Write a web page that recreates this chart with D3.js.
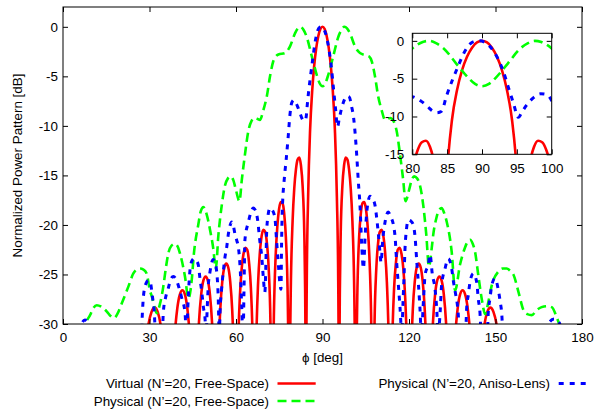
<!DOCTYPE html>
<html><head><meta charset="utf-8">
<script src="https://cdn.jsdelivr.net/npm/d3@7"></script>
<style>
body{margin:0;background:#fff}
svg{display:block}
text{font-family:"Liberation Sans",Arial,Helvetica,sans-serif;fill:#000}
</style>
</head><body>
<svg id="chart" width="597" height="414"></svg>
<script>
// ---------- data ----------
const xTicks = [0, 30, 60, 90, 120, 150, 180];
const yTicks = [0, -5, -10, -15, -20, -25, -30];
const insetXTicks = [80, 85, 90, 95, 100];
const insetYTicks = [0, -5, -10, -15];
const seriesNames = ["Virtual (N\u2019=20, Free-Space)", "Physical (N\u2019=20, Free-Space)", "Physical (N\u2019=20, Aniso-Lens)"];
const xLabel = "\u03D5 [deg]";
const yLabel = "Normalized Power Pattern [dB]";

// Virtual (N'=20, Free-Space)  [phi (deg), dB]
const virtualFS = [
[25.84,-45],[28.36,-33.0],[29.54,-30.2],[30.68,-28.8],[31.79,-28.35],[32.86,-28.8],[33.90,-30.2],[34.92,-33.0],[36.87,-45],
[37.82,-36.8],[38.74,-31.2],[39.65,-28.4],[40.54,-27.0],[41.41,-26.6],[42.27,-27.0],[43.11,-28.4],[43.95,-31.2],[44.77,-36.8],[45.57,-45],
[46.37,-35.4],[47.16,-29.8],[47.93,-27.0],[48.70,-25.6],[49.46,-25.2],[50.21,-25.6],[50.95,-27.0],[51.68,-29.8],[52.41,-35.4],[53.13,-45],
[53.84,-34.1],[54.55,-28.5],[55.25,-25.7],[55.94,-24.3],[56.63,-23.9],[57.32,-24.3],[57.99,-25.7],[58.67,-28.5],[59.34,-34.1],[60.00,-45],
[60.66,-33.1],[61.31,-27.4],[61.97,-24.4],[62.61,-22.9],[63.26,-22.3],[63.90,-22.5],[64.53,-23.8],[65.17,-26.4],[65.80,-31.9],[66.42,-45],
[67.05,-31.6],[67.67,-25.8],[68.29,-22.75],[68.90,-21.1],[69.51,-20.5],[70.12,-20.7],[70.73,-21.85],[71.34,-24.4],[71.94,-29.8],[72.54,-45],
[72.84,-35.1],[73.14,-29.1],[73.74,-23.2],[74.34,-20.15],[74.93,-18.4],[75.52,-17.7],[76.11,-17.8],[76.70,-18.8],[77.29,-21.2],[77.88,-26.4],[78.17,-32.1],[78.46,-45],
[78.76,-31.7],[79.05,-25.6],[79.63,-19.6],[80.21,-16.3],[80.79,-14.4],[81.37,-13.4],[81.95,-13.2],[82.53,-14.0],[83.11,-16.1],[83.69,-20.9],[83.97,-26.4],[84.12,-32.2],[84.26,-45],
[84.40,-31.8],[84.55,-25.6],[85.02,-17.1],[85.70,-10.4],[86.42,-6.5],[87.13,-3.9],[87.85,-2.1],[88.57,-0.9],[89.28,-0.2],[90.00,0],
[90.72,-0.2],[91.43,-0.9],[92.15,-2.1],[92.87,-3.9],[93.58,-6.5],[94.30,-10.4],[94.98,-17.1],[95.45,-25.6],[95.60,-31.8],[95.74,-45],
[95.88,-32.2],[96.03,-26.4],[96.31,-20.9],[96.89,-16.1],[97.47,-14.0],[98.05,-13.2],[98.63,-13.4],[99.21,-14.4],[99.79,-16.3],[100.37,-19.6],[100.95,-25.6],[101.24,-31.7],[101.54,-45],
[101.83,-32.1],[102.12,-26.4],[102.71,-21.2],[103.30,-18.8],[103.89,-17.8],[104.48,-17.7],[105.07,-18.4],[105.66,-20.15],[106.26,-23.2],[106.86,-29.1],[107.16,-35.1],[107.46,-45],
[108.06,-29.8],[108.66,-24.4],[109.27,-21.85],[109.88,-20.7],[110.49,-20.5],[111.10,-21.1],[111.71,-22.75],[112.33,-25.8],[112.95,-31.6],[113.58,-45],
[114.20,-31.9],[114.83,-26.4],[115.47,-23.8],[116.10,-22.5],[116.74,-22.3],[117.39,-22.9],[118.03,-24.4],[118.69,-27.4],[119.34,-33.1],[120.00,-45],
[120.66,-34.1],[121.33,-28.5],[122.01,-25.7],[122.68,-24.3],[123.37,-23.9],[124.06,-24.3],[124.75,-25.7],[125.45,-28.5],[126.16,-34.1],[126.87,-45],
[127.59,-35.4],[128.32,-29.8],[129.05,-27.0],[129.79,-25.6],[130.54,-25.2],[131.30,-25.6],[132.07,-27.0],[132.84,-29.8],[133.63,-35.4],[134.43,-45],
[135.23,-36.8],[136.05,-31.2],[136.89,-28.4],[137.73,-27.0],[138.59,-26.6],[139.46,-27.0],[140.35,-28.4],[141.26,-31.2],[142.18,-36.8],[143.13,-45],
[145.08,-33.0],[146.10,-30.2],[147.14,-28.8],[148.21,-28.35],[149.32,-28.8],[150.46,-30.2],[151.64,-33.0],[154.16,-45]
];

// Physical (N'=20, Free-Space)
const physicalFS = [
[7.5,-31],[8.0,-30.0],[9.4,-29.1],[10.5,-28.4],[11.7,-28.1],[13.5,-28.3],[15.2,-28.75],[16.5,-29.2],[17.7,-29.4],[19.0,-28.9],[20.4,-27.9],
[22.7,-26.2],[24.4,-24.9],[25.5,-24.5],[26.7,-24.4],[27.9,-24.5],[29.0,-24.9],[30.2,-26.7],[30.8,-27.2],[31.7,-28.3],[32.5,-28.9],[33.6,-28.0],
[34.8,-26.2],[35.6,-24.5],[36.5,-22.9],[37.6,-22.1],[38.8,-21.9],[39.8,-22.2],[40.6,-22.9],[42.3,-25.2],[43.5,-27.4],[44.6,-25.7],[45.4,-22.9],
[46.9,-20.0],[47.8,-18.6],[48.7,-18.2],[49.8,-18.9],[51.0,-20.5],[52.1,-22.35],[53.0,-24.4],[53.9,-21.0],[55.0,-18.15],[56.2,-16.0],[57.2,-15.3],
[58.2,-15.1],[59.1,-15.5],[60.0,-16.5],[61.2,-17.6],[62.0,-15.5],[63.1,-12.9],[64.3,-10.5],[65.4,-9.5],[66.5,-9.2],[67.5,-9.3],[68.3,-9.4],
[69.5,-8.4],[70.7,-7.0],[71.8,-5.0],[72.9,-3.5],[73.8,-3.0],[74.7,-2.8],[77.0,-2.65],[78.7,-2.0],[80.5,-0.64],[81.5,-0.15],[82.4,0.0],
[83.4,-0.3],[84.5,-1.0],[86.3,-3.0],[88.0,-4.85],[89.0,-5.7],[90.0,-6.0],[91.0,-5.7],[92.0,-4.85],[93.7,-3.0],[95.5,-1.0],[96.6,-0.3],
[97.6,0.0],[98.5,-0.15],[99.5,-0.64],[101.3,-2.0],[103.0,-2.65],[105.3,-2.9],[106.2,-3.0],[107.1,-3.5],[108.2,-5.0],[109.3,-7.0],[110.5,-8.4],
[111.7,-9.4],[112.5,-9.3],[113.5,-9.2],[114.6,-9.5],[115.7,-10.5],[116.9,-12.9],[118.0,-15.5],[118.8,-17.6],[120.0,-16.5],[120.9,-15.5],
[121.8,-15.1],[122.8,-15.3],[123.8,-16.0],[125.0,-18.15],[126.0,-21.0],[126.9,-24.2],[127.9,-22.3],[128.4,-21.0],[129.5,-19.3],[130.4,-18.5],
[131.3,-18.3],[132.2,-18.8],[133.1,-19.7],[134.8,-22.7],[136.0,-26.6],[137.7,-24.0],[139.4,-22.3],[140.3,-21.7],[141.2,-21.5],[142.1,-21.9],
[142.9,-22.7],[144.0,-25.0],[145.3,-27.6],[146.4,-29.0],[147.5,-27.8],[148.7,-26.1],[151.0,-24.7],[152.5,-24.4],[153.9,-24.4],[155.0,-24.6],
[156.2,-25.0],[158.0,-26.8],[159.7,-28.6],[161.0,-29.0],[162.6,-29.1],[164.3,-28.6],[166.0,-28.3],[167.8,-28.2],[169.5,-28.3],[171.2,-29.3],
[172.4,-30.3],[173.0,-31]
];

// Physical (N'=20, Aniso-Lens)
const physicalLens = [
[5.8,-32],[6.6,-29.9],[7.6,-29.6],[8.6,-29.9],[9.4,-32],[18.0,-33],
[27.0,-32],[27.6,-28.5],[27.9,-27.2],[28.8,-25.9],[29.6,-25.6],[30.2,-25.7],[31.0,-27.2],[31.6,-28.6],[32.3,-32],
[34.3,-32],[34.8,-28.8],[35.6,-27.3],[36.5,-26.4],[37.5,-25.4],[38.3,-25.2],[39.4,-25.6],[40.3,-26.4],[41.2,-27.4],[42.3,-28.8],[42.9,-31.5],
[43.2,-29],[43.5,-27],[44.0,-24.7],[44.6,-23.7],[45.4,-23.4],[46.2,-23.6],[46.9,-24.0],[47.5,-25.4],[48.1,-26.7],[48.7,-28.3],[49.3,-29.6],[49.6,-31.5],
[50.0,-28.5],[50.4,-26.1],[51.0,-24.7],[52.1,-23.5],[52.7,-23.8],[53.3,-24.7],[53.8,-27],[54.2,-31],
[54.5,-28.5],[55.0,-26.5],[55.6,-24.7],[56.2,-23.2],[56.8,-22.2],[57.3,-21.0],[58.0,-20.0],[58.5,-19.7],[59.1,-20.1],[59.7,-21.0],[60.3,-21.6],
[60.8,-22.2],[61.5,-24.7],[62.0,-28.4],[62.45,-31.5],
[62.75,-27],[63.1,-21.5],[64.3,-19.7],[65.2,-18.7],[66.0,-18.3],[66.7,-18.5],[67.4,-19.3],[68.3,-21.7],[68.9,-23.1],[69.5,-25.4],[70.0,-26.8],
[70.4,-23.5],[70.6,-21.0],[71.0,-19.3],[71.8,-18.3],[72.6,-18.5],[73.5,-19.3],[74.1,-21.7],[74.7,-24.0],[75.3,-26.1],[75.6,-26.5],
[75.8,-22],[76.0,-19.0],[76.2,-17.5],[76.7,-15.5],[77.4,-13.4],[78.1,-11.1],[78.7,-8.9],[79.3,-7.7],[80.0,-7.4],[80.6,-7.6],[81.3,-8.0],
[82.2,-8.7],[82.8,-9.2],[83.5,-9.5],[84.2,-9.3],[84.9,-7.3],[85.7,-5.3],[86.6,-3.3],[87.3,-1.8],[88.3,-0.4],[89.0,-0.05],[89.7,0],
[90.4,-0.2],[91.1,-0.7],[92.3,-2.4],[93.05,-4.0],[93.8,-6.2],[94.5,-8.2],[95.2,-10.1],[95.8,-9.3],[96.4,-8.5],[97.4,-7.5],[98.4,-7.0],
[99.3,-7.1],[100.1,-8.05],[100.8,-9.2],[101.3,-10.7],[101.9,-13.1],[102.4,-15.5],[103.0,-18.0],[103.6,-22.0],[104.2,-24.4],
[104.8,-21.0],[105.5,-18.3],[106.5,-17.1],[107.4,-17.4],[108.2,-18.0],[108.8,-19.3],[109.4,-21.0],[110.0,-23.0],[110.3,-23.8],
[110.9,-21.5],[111.7,-19.7],[112.8,-18.7],[113.7,-19.2],[114.6,-20.0],[115.2,-21.3],[115.7,-23.7],[116.3,-26.0],[116.9,-28.4],[117.5,-31],
[117.9,-28],[118.3,-25],[118.6,-22.5],[119.1,-20.5],[119.8,-19.5],[120.6,-19.6],[121.5,-20.0],[122.1,-21.2],[122.7,-23.7],[123.3,-26.1],[123.8,-28.4],[124.3,-31],
[125.0,-27.7],[125.6,-25.0],[126.7,-24.0],[127.3,-23.0],[128.1,-25.0],[129.0,-26.4],[129.6,-28.4],[130.1,-31],
[130.8,-28.8],[131.3,-26.1],[132.5,-24.4],[133.6,-23.4],[134.8,-24.4],[135.4,-25.7],[136.0,-26.7],[137.1,-29.1],[137.5,-31],
[139.5,-32],[140.0,-28.4],[140.6,-27.0],[141.2,-25.7],[142.3,-24.9],[143.5,-25.8],[144.0,-27.4],[144.6,-28.8],[145.2,-32],
[147.0,-32],[147.5,-28.8],[148.1,-27.4],[148.7,-26.1],[149.8,-25.4],[151.0,-26.6],[151.6,-27.7],[152.2,-29.1],[152.7,-32],
[160.0,-33],[167.5,-32],[168.5,-29.9],[170.3,-29.5],[172.2,-29.9],[173.0,-32]
];

// ---------- drawing ----------
const svg = d3.select("#chart");
const FONT = "13.4px";

const x = d3.scaleLinear().domain([0, 180]).range([63, 582]);
const y = d3.scaleLinear().domain([-30, 2]).range([324, 7]);
const xi = d3.scaleLinear().domain([80, 100]).range([412.3, 551.7]);
const yi = d3.scaleLinear().domain([-15, 1]).range([154.3, 33.3]);

const styles = [
  {data: virtualFS, color: "#ff0000", width: 2.6, dash: null},
  {data: physicalFS, color: "#00ff00", width: 2.6, dash: "9,5"},
  {data: physicalLens, color: "#0000ff", width: 3, dash: "5,6"}
];

const defs = svg.append("defs");
defs.append("clipPath").attr("id", "clipMain").append("rect")
  .attr("x", x(0)).attr("y", y(2)).attr("width", x(180) - x(0)).attr("height", y(-30) - y(2));
defs.append("clipPath").attr("id", "clipInset").append("rect")
  .attr("x", xi(80)).attr("y", yi(1)).attr("width", xi(100) - xi(80)).attr("height", yi(-15) - yi(1));

function drawCurves(g, sx, sy, clipId) {
  const line = d3.line().x(d => sx(d[0])).y(d => sy(d[1])).curve(d3.curveMonotoneX);
  const cg = g.append("g").attr("clip-path", `url(#${clipId})`);
  styles.forEach(s => {
    cg.append("path").attr("d", line(s.data)).attr("fill", "none")
      .attr("stroke", s.color).attr("stroke-width", s.width)
      .attr("stroke-dasharray", s.dash).attr("stroke-linejoin", "round");
  });
}

function drawAxes(g, sx, sy, xt, yt, xPad, yPad) {
  const [x0, x1] = sx.range(), [y0, y1] = sy.range();
  const ax = (gen, tr) => {
    const a = g.append("g").attr("transform", tr).call(gen);
    a.select(".domain").remove();
    a.selectAll("text").style("font-size", FONT).attr("fill", "#000");
    a.selectAll("line").attr("stroke", "#000");
    return a;
  };
  ax(d3.axisBottom(sx).tickValues(xt).tickSizeInner(-5).tickSizeOuter(0).tickPadding(xPad).tickFormat(d3.format("d")), `translate(0,${y0})`);
  ax(d3.axisTop(sx).tickValues(xt).tickSizeInner(-5).tickSizeOuter(0).tickFormat(""), `translate(0,${y1})`);
  ax(d3.axisLeft(sy).tickValues(yt).tickSizeInner(-5).tickSizeOuter(0).tickPadding(yPad).tickFormat(d => d3.format("d")(d).replace("\u2212", "-")), `translate(${x0},0)`);
  ax(d3.axisRight(sy).tickValues(yt).tickSizeInner(-5).tickSizeOuter(0).tickFormat(""), `translate(${x1},0)`);
  g.append("rect").attr("x", x0).attr("y", y1).attr("width", x1 - x0).attr("height", y0 - y1)
    .attr("fill", "none").attr("stroke", "#000").attr("stroke-width", 1);
}

// main plot
const main = svg.append("g");
drawCurves(main, x, y, "clipMain");
drawAxes(main, x, y, xTicks, yTicks, 8, 5);

// inset
const inset = svg.append("g");
inset.append("rect").attr("x", xi(80)).attr("y", yi(1)).attr("width", xi(100) - xi(80)).attr("height", yi(-15) - yi(1)).attr("fill", "#fff");
drawCurves(inset, xi, yi, "clipInset");
drawAxes(inset, xi, yi, insetXTicks, insetYTicks, 9, 8);

// axis labels
svg.append("text").attr("x", (x(0) + x(180)) / 2).attr("y", 362).attr("text-anchor", "middle")
  .style("font-size", FONT).text(xLabel);
svg.append("text").attr("transform", `translate(21.5,${(y(2) + y(-30)) / 2}) rotate(-90)`)
  .attr("text-anchor", "middle").style("font-size", FONT).text(yLabel);

// legend
const legendPos = [
  {tx: 269, ty: 383.5, lx0: 277.5, lx1: 315.7},
  {tx: 269, ty: 401, lx0: 277.5, lx1: 315.7},
  {tx: 550, ty: 383.5, lx0: 558.7, lx1: 589.4}
];
const leg = svg.append("g");
seriesNames.forEach((name, i) => {
  const p = legendPos[i], s = styles[i];
  leg.append("text").attr("x", p.tx).attr("y", p.ty).attr("dy", "0.35em").attr("text-anchor", "end")
    .style("font-size", FONT).text(name);
  leg.append("line").attr("x1", p.lx0).attr("x2", p.lx1).attr("y1", p.ty).attr("y2", p.ty)
    .attr("stroke", s.color).attr("stroke-width", s.width).attr("stroke-dasharray", s.dash);
});
</script>
</body></html>
